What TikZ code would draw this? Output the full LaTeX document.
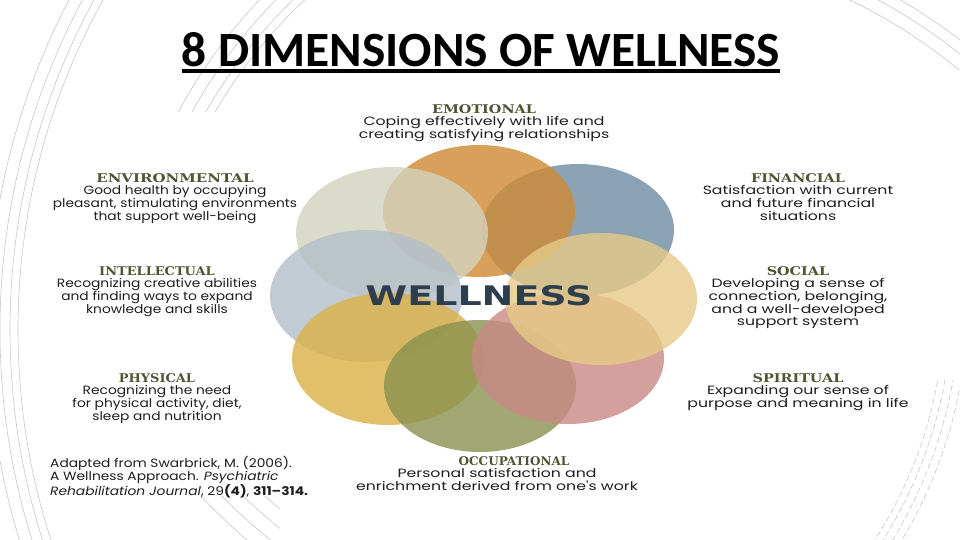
\documentclass[tikz,border=0pt]{standalone}
\usepackage{fontspec}
\usetikzlibrary{shapes.geometric}
\setmainfont{Poppins}
\newfontfamily\bodyL[FakeStretch=1.15]{Poppins}
\newfontfamily\bodyR[FakeStretch=1.31]{Poppins}
\newfontfamily\headL[FakeStretch=1.08]{DejaVu Serif}
\newfontfamily\headR[FakeStretch=1.2]{DejaVu Serif}
\newfontfamily\headO[FakeStretch=1.0]{DejaVu Serif}
\newfontfamily\headE[FakeStretch=1.25]{DejaVu Serif}
\newfontfamily\titlefont{Carlito}
\newfontfamily\wellfont{DejaVu Sans}
\definecolor{emoC}{HTML}{CF8933}
\definecolor{finC}{HTML}{6D8BA0}
\definecolor{socC}{HTML}{E6CA87}
\definecolor{spiC}{HTML}{C88985}
\definecolor{occC}{HTML}{8A9150}
\definecolor{phyC}{HTML}{DBB147}
\definecolor{intC}{HTML}{B3BFC9}
\definecolor{envC}{HTML}{D3D2C0}
\definecolor{headC}{HTML}{4E5533}
\definecolor{bodyC}{HTML}{1E1E1E}
\definecolor{wellC}{HTML}{2E3E4C}
\definecolor{bgC}{HTML}{C8C8C8}
\tikzset{
  petal/.style={ellipse, minimum width=192pt, minimum height=132pt, inner sep=0pt, fill opacity=0.8, draw=none},
  labL/.style={align=center, inner sep=0pt, anchor=north, text=bodyC, font=\bodyL\fontsize{12}{12.7}\selectfont},
  labR/.style={align=center, inner sep=0pt, anchor=north, text=bodyC, font=\bodyR\fontsize{12}{12.7}\selectfont},
  bgline/.style={draw=bgC, line width=0.6pt},
}
\newcommand{\hdL}[1]{{\headL\bfseries\fontsize{12}{12.7}\selectfont\color{headC}#1}}
\newcommand{\hdR}[1]{{\headR\bfseries\fontsize{12}{12.7}\selectfont\color{headC}#1}}
\newcommand{\hdO}[1]{{\headO\bfseries\fontsize{12}{12.7}\selectfont\color{headC}#1}}
\newcommand{\hdE}[1]{{\headE\bfseries\fontsize{12}{12.7}\selectfont\color{headC}#1}}
\begin{document}
\begin{tikzpicture}[x=1pt,y=-1pt]
\useasboundingbox (0,0) rectangle (960,540);
\fill[white] (0,0) rectangle (960,540);
% faint background arcs
\begin{scope}
  \clip (0,0) rectangle (120,540);
  \foreach \r in {682,690,700,712} \draw[bgline] (700,330) circle[radius=\r pt];
\end{scope}
\begin{scope}
  \clip (170,0) rectangle (330,112);
  \foreach \r in {492,500,512,524} \draw[bgline] (640,360) circle[radius=\r pt];
\end{scope}
\begin{scope}
  \clip (815,0) rectangle (960,70);
  \foreach \r in {532,545,556} \draw[bgline] (620,480) circle[radius=\r pt];
\end{scope}
\begin{scope}
  \clip (840,380) rectangle (960,540);
  \foreach \r in {445,452,460,468} \draw[bgline, dash pattern=on 6pt off 3pt] (500,300) circle[radius=\r pt];
\end{scope}
\begin{scope}
  \clip (60,496) rectangle (280,540);
  \foreach \r in {560,575,590,605} \draw[bgline] (640,80) circle[radius=\r pt];
\end{scope}
% title
\node[inner sep=0pt] (title) at (481,50) {\resizebox{598pt}{34pt}{\titlefont\bfseries 8 DIMENSIONS OF WELLNESS}};
\draw[line width=3.5pt] ([yshift=-3.8pt]title.south west) -- ([yshift=-3.8pt]title.south east);
% petals
\node[petal, fill=finC] (fin) at (578,230) {};
\node[petal, fill=emoC] (emo) at (479,211) {};
\node[petal, fill=envC] (env) at (392,233) {};
\node[petal, fill=intC] (int) at (366,296) {};
\node[petal, fill=phyC] (phy) at (388,359) {};
\node[petal, fill=occC] (occ) at (480,386) {};
\node[petal, fill=spiC] (spi) at (568,358) {};
\node[petal, fill=socC] (soc) at (601,299) {};
\node[inner sep=0pt, text=wellC] (well) at (479,296) {\resizebox{227pt}{20pt}{\wellfont\bfseries WELLNESS}};
% labels
\node[labR] (lemo) at (484,104) {\hdR{EMOTIONAL}\\Coping effectively with life and\\creating satisfying relationships};
\node[labL] (lenv) at (175,173) {\hdE{ENVIRONMENTAL}\\Good health by occupying\\pleasant, stimulating environments\\that support well-being};
\node[labL] (lint) at (157,266) {\hdL{INTELLECTUAL}\\Recognizing creative abilities\\and finding ways to expand\\knowledge and skills};
\node[labL] (lphy) at (157,373) {\hdL{PHYSICAL}\\Recognizing the need\\for physical activity, diet,\\sleep and nutrition};
\node[labR] (lfin) at (798,173) {\hdR{FINANCIAL}\\Satisfaction with current\\and future financial\\situations};
\node[labR] (lsoc) at (798,266) {\hdR{SOCIAL}\\Developing a sense of\\connection, belonging,\\and a well-developed\\support system};
\node[labR] (lspi) at (798,373) {\hdR{SPIRITUAL}\\Expanding our sense of\\purpose and meaning in life};
\node[labR] (hocc) at (514,456) {\hdO{OCCUPATIONAL}};
\node[labR] (locc) at (497,468.5) {Personal satisfaction and\\enrichment derived from one's work};
\node[labL, align=left, anchor=north west] (cite) at (50,456) {Adapted from Swarbrick, M. (2006).\\A Wellness Approach. \textit{Psychiatric}\\\textit{Rehabilitation Journal}, 29\textbf{(4)}, \textbf{311–314.}};
\end{tikzpicture}
\end{document}
